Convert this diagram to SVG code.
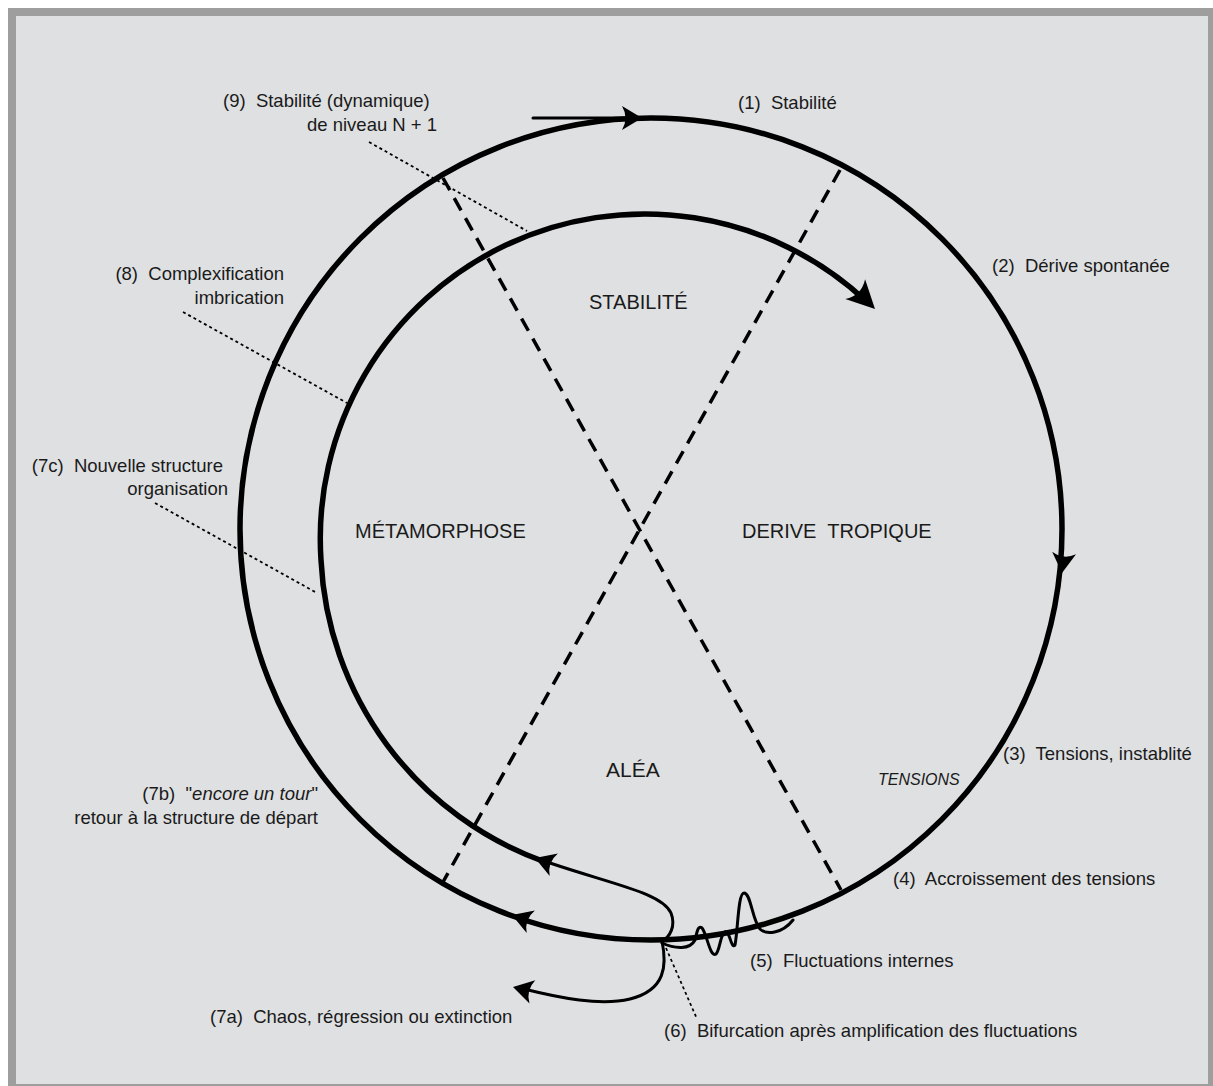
<svg xmlns="http://www.w3.org/2000/svg" width="1213" height="1086" viewBox="0 0 1213 1086">
<defs>
<style>
.lbl{font-family:"Liberation Sans",Arial,sans-serif;font-size:18.5px;fill:#1a1a1a;white-space:pre}
.big{font-family:"Liberation Sans",Arial,sans-serif;font-size:20px;fill:#1a1a1a;white-space:pre}
.it{font-style:italic}
.thick{fill:none;stroke:#000;stroke-width:5.5}
.thin{fill:none;stroke:#000;stroke-width:3;stroke-linecap:round;stroke-linejoin:round}
.dash{fill:none;stroke:#000;stroke-width:3.5;stroke-dasharray:14 9}
.dot{fill:none;stroke:#000;stroke-width:1.8;stroke-dasharray:3 3}
</style>
<path id="ah" d="M0,0 L-20,-12 Q-13,0 -20,12 Z" fill="#000"/>
<path id="ahb" d="M0,0 L-28,-14 Q-19,0 -28,14 Z" fill="#000"/>
</defs>
<rect x="0" y="0" width="1213" height="1086" fill="#ffffff"/>
<rect x="8" y="8" width="1205" height="1078" fill="#9e9e9e"/>
<rect x="16" y="16" width="1192" height="1068" fill="#dfe0e2"/>

<g id="connectors">
<circle cx="651" cy="529" r="411" class="thick"/>
<line x1="533" y1="118" x2="630" y2="118" class="thin"/>
<use href="#ah" transform="translate(642,118)"/>
<use href="#ah" transform="translate(1062,573) rotate(96)"/>
<use href="#ah" transform="translate(512,915) rotate(200)"/>
<path class="thick" d="M545,862 A338,338 0 0 1 321,560 A324.5,324.5 0 0 1 866,301"/>
<use href="#ahb" transform="translate(875,309) rotate(45)"/>
<path class="thin" d="M550,863 C615,885 662,893 671,913 C676,926 670,937 662,941"/>
<use href="#ah" transform="translate(535,858) rotate(200)"/>
<path class="thin" d="M662,941 C667,965 666,990 630,999 C600,1006 560,998 524,989"/>
<use href="#ah" transform="translate(513,987) rotate(194)"/>
<path class="thin" d="M662,943 C675,949 690,950 695,940 C697,932 698,925 702,928 C707,934 710,958 716,954 C720,950 720,935 725,932 C730,930 731,950 735,945 C738,930 738,893 744,893 C751,893 752,920 760,929 C766,935 782,934 793,920"/>
<line x1="443" y1="178" x2="841" y2="890" class="dash"/>
<line x1="840" y1="170" x2="443" y2="882" class="dash"/>
<line x1="369" y1="142" x2="527" y2="231" class="dot"/>
<line x1="183" y1="312" x2="347" y2="403" class="dot"/>
<line x1="155" y1="503" x2="317" y2="593" class="dot"/>
<line x1="666" y1="948" x2="697" y2="1019" class="dot"/>
</g>

<g id="zone-stabilite"><text class="big" x="589" y="309">STABILITÉ</text></g>
<g id="zone-metamorphose"><text class="big" x="355" y="538">MÉTAMORPHOSE</text></g>
<g id="zone-derive"><text class="big" x="742" y="538">DERIVE  TROPIQUE</text></g>
<g id="zone-alea"><text class="big" x="606" y="777" style="font-size:21px">ALÉA</text></g>

<g id="step1"><text class="lbl" x="738" y="109">(1)  Stabilité</text></g>
<g id="step2"><text class="lbl" x="992" y="272">(2)  Dérive spontanée</text></g>
<g id="step3"><text class="lbl" x="1003" y="760">(3)  Tensions, instablité</text>
<text class="lbl it" x="878" y="785" style="font-size:16px">TENSIONS</text></g>
<g id="step4"><text class="lbl" x="893" y="885">(4)  Accroissement des tensions</text></g>
<g id="step5"><text class="lbl" x="750" y="967">(5)  Fluctuations internes</text></g>
<g id="step6"><text class="lbl" x="664" y="1037">(6)  Bifurcation après amplification des fluctuations</text></g>
<g id="step7a"><text class="lbl" x="210" y="1023">(7a)  Chaos, régression ou extinction</text></g>
<g id="step7b"><text class="lbl" x="318" y="800" text-anchor="end">(7b)  "<tspan class="it">encore un tour</tspan>"</text>
<text class="lbl" x="318" y="824" text-anchor="end">retour à la structure de départ</text></g>
<g id="step7c"><text class="lbl" x="223" y="472" text-anchor="end">(7c)  Nouvelle structure</text>
<text class="lbl" x="228" y="495" text-anchor="end">organisation</text></g>
<g id="step8"><text class="lbl" x="284" y="280" text-anchor="end">(8)  Complexification</text>
<text class="lbl" x="284" y="304" text-anchor="end">imbrication</text></g>
<g id="step9"><text class="lbl" x="223" y="107">(9)  Stabilité (dynamique)</text>
<text class="lbl" x="307" y="131">de niveau N + 1</text></g>
</svg>
